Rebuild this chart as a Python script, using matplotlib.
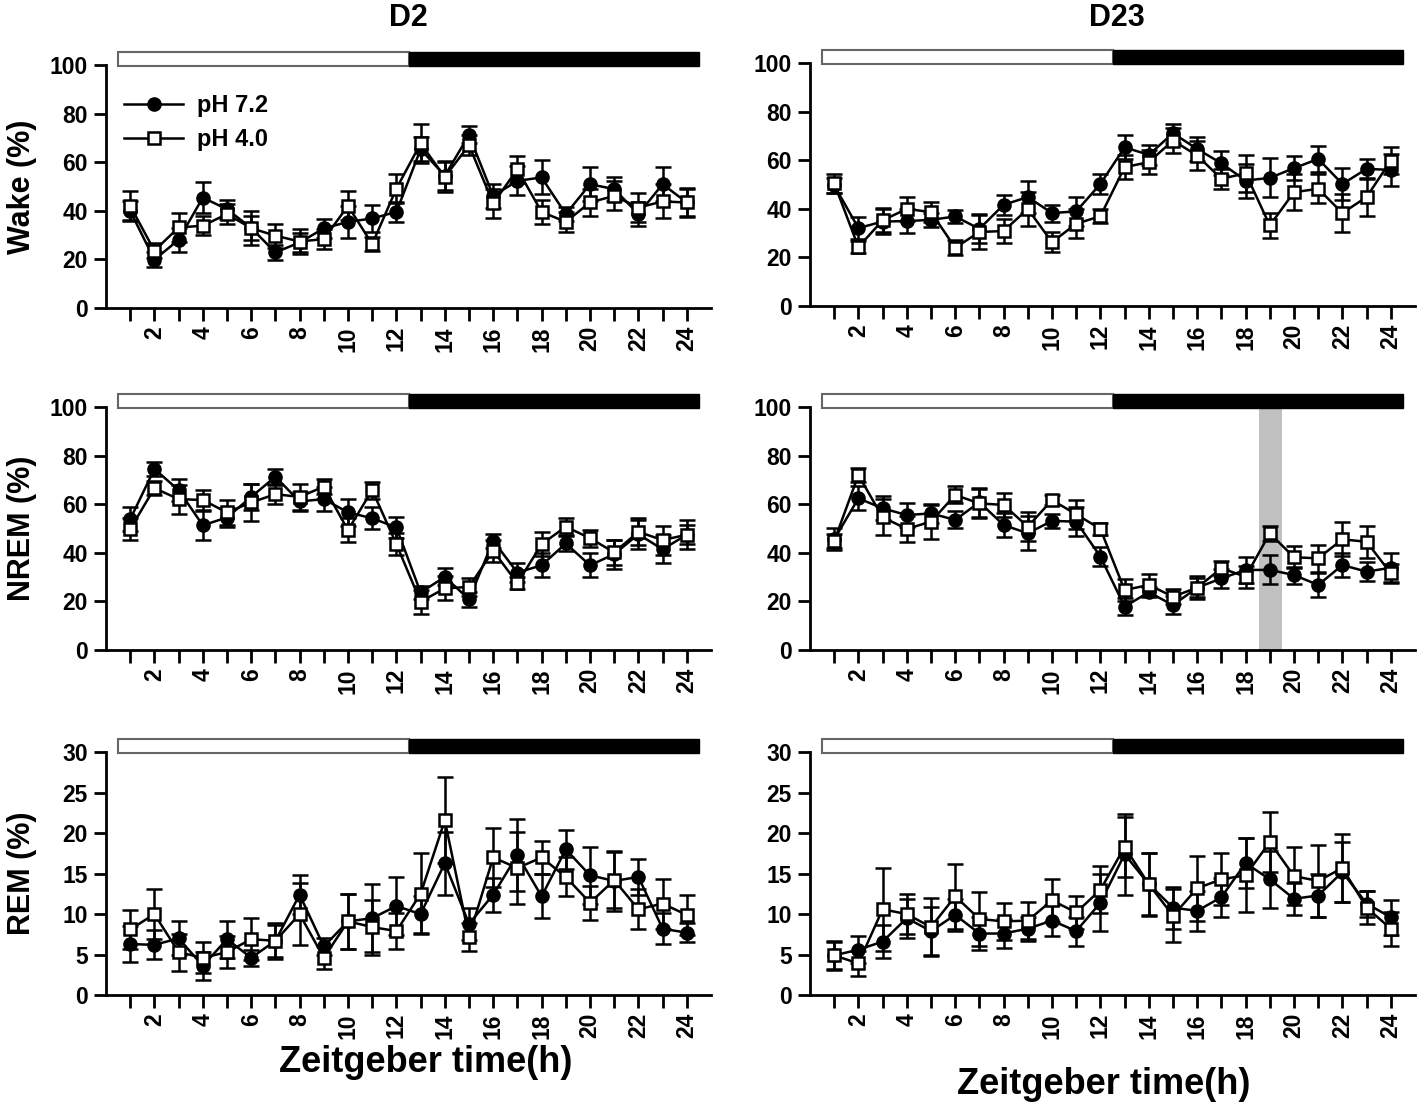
import numpy as np
import matplotlib
matplotlib.use("Agg")
import matplotlib.pyplot as plt
from matplotlib.patches import Rectangle
from matplotlib.lines import Line2D
import matplotlib.transforms as mtransforms

plt.rcParams['font.family'] = ['Liberation Sans', 'DejaVu Sans']
plt.rcParams['font.weight'] = 'bold'

hours = list(range(1, 25))
xtick_labels = [str(h) if h % 2 == 0 else '' for h in hours]
series_labels = ['pH 7.2', 'pH 4.0']
col_titles = ['D2', 'D23']
row_labels = ['Wake (%)', 'NREM (%)', 'REM (%)']
xlabel = 'Zeitgeber time(h)'

# Wake D2
wake_d2_ph72 = [40.0, 19.9, 28.1, 45.5, 40.7, 33.0, 22.9, 27.0, 32.8, 35.5, 36.9, 39.6,
                65.4, 54.5, 71.3, 46.2, 52.4, 53.8, 38.7, 51.0, 49.0, 38.7, 51.0, 43.5]
wake_d2_ph72_err = [4, 3, 5, 6.5, 4, 5, 3, 4, 4, 6.5, 5.5, 4, 5, 6, 3.5, 5, 6, 7, 3, 7, 5, 5, 7, 5.5]
wake_d2_ph40 = [42.1, 23.6, 33.2, 33.9, 38.7, 32.9, 29.8, 27.4, 28.4, 42.1, 26.3, 49.2,
                67.8, 54.0, 67.1, 43.1, 57.2, 39.6, 35.5, 43.5, 46.2, 41.4, 43.9, 43.5]
wake_d2_ph40_err = [6, 3, 6, 4, 4, 7, 5, 5, 4, 6, 3, 6, 8, 6, 4, 6, 5.5, 5, 4, 5.5, 6, 6, 7, 6]

# Wake D23
wake_d23_ph72 = [49.7, 32.1, 34.8, 35.0, 35.5, 36.9, 31.8, 41.7, 44.9, 38.3, 39.0, 50.3,
                 65.4, 62.3, 71.2, 64.7, 58.8, 51.7, 52.8, 56.8, 60.6, 50.3, 56.5, 56.1]
wake_d23_ph72_err = [3, 4.5, 5, 5, 3, 2.5, 6, 4, 6.5, 3.5, 6, 4, 5, 4, 4, 5, 5, 7, 8, 5, 5.5, 6.5, 4, 6.5]
wake_d23_ph40 = [50.6, 24.3, 35.3, 40.0, 38.7, 24.0, 30.5, 30.9, 40.0, 26.3, 33.9, 37.0,
                 57.2, 59.3, 68.2, 62.0, 52.4, 54.7, 33.2, 46.9, 48.3, 38.3, 44.9, 59.9]
wake_d23_ph40_err = [4, 2.3, 5, 5, 4, 3, 7, 5, 7, 4, 6, 3, 5, 5, 5, 6, 4, 7.6, 5, 7.5, 6, 8, 8, 5.5]

# NREM D2
nrem_d2_ph72 = [53.9, 74.6, 65.9, 51.4, 54.6, 63.1, 71.4, 61.2, 62.2, 56.7, 54.3, 50.5,
                23.7, 30.1, 20.9, 45.0, 31.9, 34.9, 43.9, 34.9, 39.5, 47.7, 41.5, 47.5]
nrem_d2_ph72_err = [5, 3, 4.5, 6, 4, 5.5, 3, 4, 5, 5.5, 4.5, 4.5, 2.5, 3.5, 3, 3, 4, 5, 3, 5, 6, 6, 5.7, 6]
nrem_d2_ph40 = [49.8, 66.7, 62.2, 61.8, 56.7, 60.8, 64.2, 63.1, 67.3, 49.4, 65.9, 43.6,
                19.9, 25.4, 26.0, 40.9, 27.5, 43.6, 50.8, 46.1, 40.2, 48.7, 45.3, 47.5]
nrem_d2_ph40_err = [4.5, 3, 6, 4, 5, 7.5, 4, 5.5, 3, 5, 3.5, 4.5, 5, 5, 3.8, 4.5, 2.5, 5, 3.5, 3.5, 5, 5.5, 6, 4]

# NREM D23
nrem_d23_ph72 = [45.6, 62.5, 58.4, 55.6, 56.3, 53.6, 60.9, 51.5, 48.1, 53.2, 52.9, 38.5,
                 17.9, 23.8, 18.5, 25.7, 29.5, 33.0, 33.0, 30.9, 26.8, 35.0, 32.3, 33.9]
nrem_d23_ph72_err = [4.5, 5, 5, 5, 4, 3.5, 6, 5, 7, 3, 6, 4, 3.5, 2, 3.8, 4.8, 3.8, 5.5, 6, 3.5, 5, 5, 4, 6]
nrem_d23_ph40 = [44.9, 72.1, 54.7, 49.9, 52.9, 63.9, 60.4, 59.8, 50.8, 61.8, 55.9, 49.9,
                 24.7, 26.8, 22.0, 25.7, 33.7, 30.2, 48.1, 38.2, 37.8, 45.6, 44.6, 31.6]
nrem_d23_ph40_err = [3, 3, 7.5, 5.5, 7, 3.5, 6, 5, 6, 2, 6, 2.6, 4.6, 4.5, 3, 3.8, 3, 4.5, 3, 4.5, 5.5, 7, 6.5, 4]

# REM D2
rem_d2_ph72 = [6.3, 6.2, 7.0, 3.6, 6.9, 4.6, 6.7, 12.4, 6.0, 9.1, 9.5, 11.0,
               10.0, 16.3, 8.8, 12.4, 17.3, 12.2, 18.0, 14.8, 14.1, 14.6, 8.2, 7.7]
rem_d2_ph72_err = [2.2, 1.8, 2.1, 1.7, 2.3, 1.0, 2.0, 2.4, 1.0, 3.4, 4.2, 3.6,
                   2.3, 3.9, 2.0, 2.1, 4.5, 2.7, 2.4, 3.5, 3.7, 2.2, 1.9, 1.2]
rem_d2_ph40 = [8.1, 10.0, 5.3, 4.6, 5.3, 6.9, 6.7, 10.0, 4.6, 9.1, 8.4, 7.9,
               12.5, 21.6, 7.2, 17.0, 15.7, 17.0, 14.6, 11.4, 14.2, 10.6, 11.3, 9.9]
rem_d2_ph40_err = [2.4, 3.1, 2.3, 1.9, 2.0, 2.6, 2.2, 3.8, 1.4, 3.4, 3.4, 2.2,
                   5.0, 5.3, 1.7, 3.6, 4.4, 2.1, 2.4, 2.1, 3.5, 2.5, 3.1, 2.5]

# REM D23
rem_d23_ph72 = [4.9, 5.6, 6.6, 9.5, 7.9, 9.9, 7.6, 7.6, 8.2, 9.2, 7.9, 11.4,
                17.4, 13.7, 10.8, 10.4, 12.1, 16.3, 14.3, 11.9, 12.3, 15.2, 11.3, 9.6]
rem_d23_ph72_err = [1.7, 1.7, 2.0, 2.4, 3.0, 2.0, 2.0, 1.8, 1.5, 1.9, 1.8, 3.5,
                    5.0, 3.8, 2.6, 2.5, 2.4, 3.1, 3.5, 2.0, 2.6, 3.7, 1.6, 2.2]
rem_d23_ph40 = [4.9, 3.9, 10.6, 10.0, 8.4, 12.2, 9.4, 9.1, 9.2, 11.7, 10.2, 13.0,
                18.3, 13.7, 9.8, 13.2, 14.3, 14.8, 18.9, 14.7, 14.1, 15.7, 10.8, 8.2]
rem_d23_ph40_err = [1.8, 1.6, 5.1, 2.5, 3.6, 4.0, 3.3, 2.3, 2.3, 2.7, 2.1, 2.9,
                    3.7, 3.9, 3.3, 4.0, 3.2, 4.6, 3.7, 3.6, 4.4, 4.2, 2.0, 2.1]

panels = [
    [(wake_d2_ph72, wake_d2_ph72_err, wake_d2_ph40, wake_d2_ph40_err),
     (wake_d23_ph72, wake_d23_ph72_err, wake_d23_ph40, wake_d23_ph40_err)],
    [(nrem_d2_ph72, nrem_d2_ph72_err, nrem_d2_ph40, nrem_d2_ph40_err),
     (nrem_d23_ph72, nrem_d23_ph72_err, nrem_d23_ph40, nrem_d23_ph40_err)],
    [(rem_d2_ph72, rem_d2_ph72_err, rem_d2_ph40, rem_d2_ph40_err),
     (rem_d23_ph72, rem_d23_ph72_err, rem_d23_ph40, rem_d23_ph40_err)],
]
row_ymax = [100, 100, 30]
row_ystep = [20, 20, 5]
shade_span = (18.55, 19.5)   # highlighted hour in NREM D23

W, H = 1424, 1107
fig = plt.figure(figsize=(W / 100, H / 100), dpi=100)

col_x0 = [106, 810]
ax_w = 605
row_bottom = [[308, 306], [650, 650], [995, 995]]
ax_h = 256
top_frac = 1.055
bar_lo = 0.945

tick_fs = 16.5
lw = 1.8

for r in range(3):
    for c in range(2):
        x0 = col_x0[c]
        yb = row_bottom[r][c]
        ax = fig.add_axes([x0 / W, (H - yb) / H, ax_w / W, ax_h / H])
        ymax = row_ymax[r]
        f_m, f_e, o_m, o_e = panels[r][c]
        ax.errorbar(hours, f_m, yerr=f_e, color='black', lw=lw, marker='o', ms=9.5,
                    mfc='black', mec='black', capsize=6, capthick=lw, elinewidth=lw, zorder=3)
        ax.errorbar(hours, o_m, yerr=o_e, color='black', lw=lw, marker='s', ms=8.5,
                    mfc='white', mec='black', mew=1.8, capsize=6, capthick=lw, elinewidth=lw, zorder=4)
        ax.set_xlim(0, 25)
        ax.set_ylim(0, ymax * top_frac)
        ax.set_yticks(np.arange(0, ymax + 0.1, row_ystep[r]))
        ax.set_xticks(hours)
        ax.set_xticklabels(xtick_labels, rotation=90, fontsize=tick_fs, fontweight='bold')
        for lab in ax.get_yticklabels():
            lab.set_fontsize(tick_fs)
            lab.set_fontweight('bold')
        for s in ['top', 'right']:
            ax.spines[s].set_visible(False)
        for s in ['left', 'bottom']:
            ax.spines[s].set_linewidth(2)
        ax.spines['left'].set_bounds(0, ymax)
        ax.tick_params(axis='both', direction='out', length=9, width=2, pad=4)
        trans = mtransforms.blended_transform_factory(ax.transData, ax.transAxes)
        ax.add_patch(Rectangle((0.5, bar_lo), 12.0, 1.0 - bar_lo, transform=trans,
                               facecolor='white', edgecolor='#666666', lw=1.5, clip_on=False))
        ax.add_patch(Rectangle((12.5, bar_lo), 12.0, 1.0 - bar_lo, transform=trans,
                               facecolor='black', edgecolor='black', lw=1.0, clip_on=False))
        if r == 1 and c == 1:
            ax.axvspan(shade_span[0], shade_span[1], ymin=0, ymax=bar_lo,
                       color='#c0c0c0', lw=0, zorder=0)
        if c == 0:
            ax.set_ylabel(row_labels[r], fontsize=22, fontweight='bold')
            ax.yaxis.set_label_coords((37 - x0) / ax_w, (ymax / 2) / (ymax * top_frac))
        if r == 0 and c == 0:
            handles = [Line2D([], [], color='black', lw=lw, marker='o', ms=9.5, mfc='black'),
                       Line2D([], [], color='black', lw=lw, marker='s', ms=8.5, mfc='white', mew=1.8)]
            ax.legend(handles, series_labels, loc='upper left', bbox_to_anchor=(0.03, 0.835),
                      frameon=False, handlelength=2.5, handletextpad=0.6,
                      labelspacing=0.45, borderpad=0, borderaxespad=0,
                      prop={'weight': 'bold', 'size': 17})

fig.text(408 / W, 1 - 18 / H, col_titles[0], ha='center', va='center', fontsize=22, fontweight='bold')
fig.text(1117 / W, 1 - 18 / H, col_titles[1], ha='center', va='center', fontsize=22, fontweight='bold')
fig.text(426 / W, 1 - 1062 / H, xlabel, ha='center', va='center', fontsize=26, fontweight='bold')
fig.text(1104 / W, 1 - 1084 / H, xlabel, ha='center', va='center', fontsize=26, fontweight='bold')

fig.savefig('out.png', dpi=100, facecolor='white')
